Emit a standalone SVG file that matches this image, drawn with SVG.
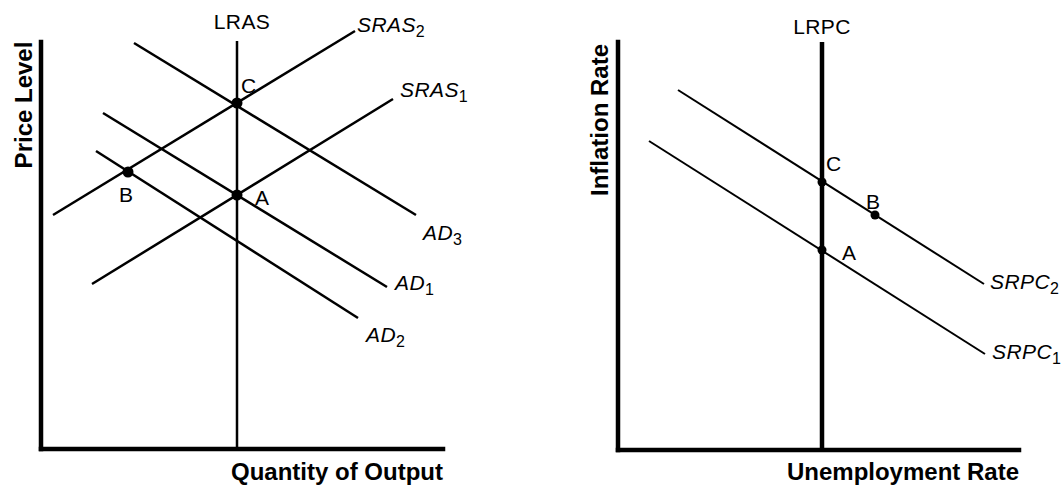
<svg xmlns="http://www.w3.org/2000/svg" width="1064" height="489" viewBox="0 0 1064 489">
<style>
.axis{stroke:#000;stroke-width:4.5;fill:none;stroke-linecap:square}
.crv{stroke:#000;stroke-width:2.5;fill:none}
.crv2{stroke:#000;stroke-width:2;fill:none}
.lbl{font-family:"Liberation Sans",Arial,sans-serif;font-size:21px;fill:#000;letter-spacing:0.4px}
.it{font-style:italic}
.ttl{font-family:"Liberation Sans",Arial,sans-serif;font-size:24px;font-weight:bold;fill:#000}
.sub{font-size:16px;font-style:normal}
</style>
<rect width="1064" height="489" fill="#fff"/>
<g id="left-panel">
  <g id="left-axes">
    <line class="axis" x1="41" y1="42" x2="41" y2="449"/>
    <line class="axis" x1="41" y1="449" x2="443" y2="449"/>
    <text class="ttl" transform="translate(32,105) rotate(-90)" text-anchor="middle">Price Level</text>
    <text class="ttl" x="443" y="480" text-anchor="end">Quantity of Output</text>
  </g>
  <g id="connectors-left">
    <line id="LRAS" class="crv" x1="237" y1="41" x2="237" y2="449" stroke-width="2"/>
    <line id="SRAS2" class="crv" x1="53" y1="215" x2="355" y2="31"/>
    <line id="SRAS1" class="crv" x1="92" y1="284" x2="393" y2="99"/>
    <line id="AD3" class="crv" x1="134" y1="43" x2="416" y2="215"/>
    <line id="AD1" class="crv" x1="103" y1="113" x2="387" y2="287"/>
    <line id="AD2" class="crv" x1="96" y1="151" x2="358" y2="318"/>
  </g>
  <g id="left-labels">
    <text class="lbl" x="242" y="29" text-anchor="middle">LRAS</text>
    <text class="lbl it" x="357" y="32">SRAS<tspan class="sub" dy="5">2</tspan></text>
    <text class="lbl it" x="400" y="97">SRAS<tspan class="sub" dy="5">1</tspan></text>
    <text class="lbl it" x="423" y="240">AD<tspan class="sub" dy="5">3</tspan></text>
    <text class="lbl it" x="395" y="290">AD<tspan class="sub" dy="5">1</tspan></text>
    <text class="lbl it" x="366" y="342">AD<tspan class="sub" dy="5">2</tspan></text>
  </g>
  <g id="point-C-left"><circle cx="237" cy="103" r="5.5"/><text class="lbl" x="241" y="93">C</text></g>
  <g id="point-A-left"><circle cx="237" cy="195" r="5.5"/><text class="lbl" x="255" y="205">A</text></g>
  <g id="point-B-left"><circle cx="128" cy="172" r="5.5"/><text class="lbl" x="119" y="202">B</text></g>
</g>
<g id="right-panel">
  <g id="right-axes">
    <line class="axis" x1="618" y1="42" x2="618" y2="450"/>
    <line class="axis" x1="618" y1="450" x2="1019" y2="450"/>
    <text class="ttl" transform="translate(608,120) rotate(-90)" text-anchor="middle">Inflation Rate</text>
    <text class="ttl" x="1019" y="480" text-anchor="end">Unemployment Rate</text>
  </g>
  <g id="connectors-right">
    <line id="LRPC" class="axis" x1="822" y1="42" x2="822" y2="450" stroke-width="4" style="stroke-linecap:butt"/>
    <line id="SRPC2" class="crv2" x1="678" y1="90" x2="984" y2="284"/>
    <line id="SRPC1" class="crv2" x1="649" y1="141" x2="985" y2="354"/>
  </g>
  <g id="right-labels">
    <text class="lbl" x="822" y="34" text-anchor="middle">LRPC</text>
    <text class="lbl it" x="990" y="289">SRPC<tspan class="sub" dy="5">2</tspan></text>
    <text class="lbl it" x="992" y="359">SRPC<tspan class="sub" dy="5">1</tspan></text>
  </g>
  <g id="point-C-right"><circle cx="822" cy="182" r="4.5"/><text class="lbl" x="826" y="171">C</text></g>
  <g id="point-B-right"><circle cx="875" cy="215" r="4.5"/><text class="lbl" x="866" y="209">B</text></g>
  <g id="point-A-right"><circle cx="822" cy="250" r="4.5"/><text class="lbl" x="842" y="260">A</text></g>
</g>
</svg>
